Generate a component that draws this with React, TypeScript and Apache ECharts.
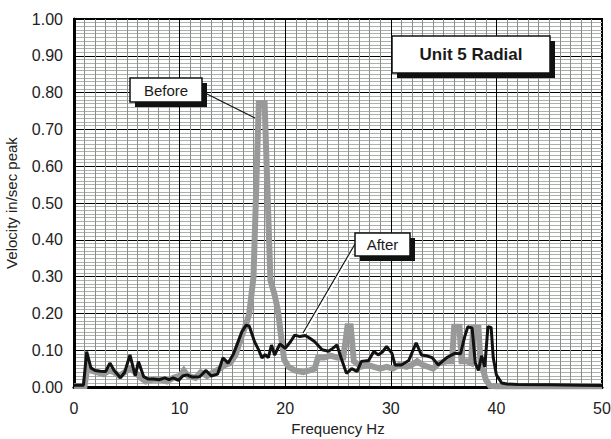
import React, { useEffect, useRef } from "react";
import * as echarts from "echarts";

const beforeFreq = [0, 1.0, 1.3, 1.6, 2.2, 2.8, 3.3, 3.8, 4.3, 4.8, 5.3, 5.8, 6.3, 6.8, 7.5, 8.2, 8.8, 9.4, 10.0, 10.4, 10.8, 11.5, 12.0, 12.6, 13.2, 13.8, 14.3, 14.8, 15.3, 15.9, 16.3, 16.6, 17.0, 17.5, 18.05, 18.6, 19.0, 19.3, 19.6, 19.9, 20.3, 20.9, 21.7, 22.3, 22.8, 23.1, 23.7, 24.3, 24.9, 25.5, 25.9, 26.2, 26.5, 27.2, 27.8, 28.4, 29.0, 29.6, 30.2, 30.8, 31.5, 32.0, 32.5, 33.0, 33.5, 34.0, 34.6, 35.3, 35.8, 36.0, 36.5, 36.7, 37.2, 37.6, 37.8, 38.3, 38.5, 38.8, 39.0, 39.4, 40, 45, 50];
const beforeVel = [0.003, 0.003, 0.06, 0.045, 0.04, 0.035, 0.045, 0.04, 0.03, 0.04, 0.05, 0.04, 0.025, 0.015, 0.02, 0.02, 0.015, 0.025, 0.03, 0.045, 0.03, 0.025, 0.04, 0.03, 0.04, 0.05, 0.06, 0.065, 0.087, 0.14, 0.17, 0.2, 0.3, 0.772, 0.772, 0.29, 0.25, 0.21, 0.14, 0.075, 0.055, 0.045, 0.04, 0.045, 0.05, 0.08, 0.08, 0.085, 0.08, 0.08, 0.165, 0.165, 0.07, 0.055, 0.06, 0.055, 0.05, 0.055, 0.05, 0.06, 0.055, 0.06, 0.07, 0.06, 0.055, 0.05, 0.065, 0.07, 0.07, 0.164, 0.164, 0.07, 0.07, 0.065, 0.16, 0.16, 0.065, 0.04, 0.02, 0.003, 0.002, 0.002, 0.002];

const afterFreq = [0, 0.9, 1.2, 1.6, 2.0, 2.5, 3.0, 3.4, 3.8, 4.4, 4.8, 5.3, 5.8, 6.1, 6.6, 7.0, 7.5, 8.1, 8.6, 9.0, 9.4, 9.9, 10.3, 10.7, 11.2, 11.9, 12.5, 13.0, 13.6, 14.1, 14.6, 15.1, 15.5, 15.9, 16.3, 16.6, 17.1, 17.5, 17.8, 18.1, 18.4, 18.7, 19.0, 19.5, 20.0, 20.5, 20.9, 21.4, 21.9, 22.3, 22.8, 23.5, 24.1, 24.5, 24.9, 25.3, 25.8, 26.3, 26.8, 27.2, 27.9, 28.4, 28.8, 29.2, 29.6, 30.1, 30.4, 31.0, 31.7, 32.4, 32.9, 33.4, 33.9, 34.5, 35.3, 36.1, 36.6, 37.0, 37.3, 37.7, 38.0, 38.3, 38.6, 38.9, 39.2, 39.5, 39.7, 40.0, 40.5, 41.0, 42, 45, 48, 50];
const afterVel = [0.005, 0.005, 0.096, 0.052, 0.045, 0.043, 0.042, 0.065, 0.045, 0.025, 0.04, 0.087, 0.03, 0.069, 0.028, 0.022, 0.022, 0.02, 0.025, 0.02, 0.025, 0.018, 0.03, 0.033, 0.027, 0.028, 0.045, 0.03, 0.035, 0.079, 0.065, 0.09, 0.12, 0.15, 0.168, 0.165, 0.123, 0.1, 0.079, 0.088, 0.08, 0.114, 0.087, 0.117, 0.105, 0.123, 0.141, 0.137, 0.14, 0.133, 0.123, 0.101, 0.097, 0.105, 0.114, 0.079, 0.037, 0.05, 0.042, 0.069, 0.072, 0.097, 0.087, 0.095, 0.11, 0.092, 0.06, 0.06, 0.072, 0.12, 0.087, 0.085, 0.08, 0.06, 0.08, 0.092, 0.09, 0.137, 0.164, 0.16, 0.065, 0.045, 0.085, 0.055, 0.164, 0.162, 0.08, 0.033, 0.011, 0.008, 0.007, 0.006, 0.005, 0.004];

const FONT = "'Liberation Sans', Arial, sans-serif";

function box(x: number, y: number, w: number, h: number, label: string, fontSize: number, bold: boolean) {
  return [
    { type: "rect", z: 100, shape: { x: x + 5, y: y + 5, width: w, height: h }, style: { fill: "#111" } },
    { type: "rect", z: 101, shape: { x, y, width: w, height: h }, style: { fill: "#fff", stroke: "#111", lineWidth: 1.5 } },
    {
      type: "text", z: 102, x: x + w / 2, y: y + h / 2,
      style: { text: label, fill: "#1a1a1a", font: `${bold ? "bold " : ""}${fontSize}px ${FONT}`, align: "center", verticalAlign: "middle" },
    },
  ];
}

export default function App() {
  const ref = useRef<HTMLDivElement>(null);
  useEffect(() => {
    document.body.style.margin = "0";
    const chart = echarts.init(ref.current!, undefined, { renderer: "svg" });
    const before = beforeFreq.map((f, i) => [f, beforeVel[i]]);
    const after = afterFreq.map((f, i) => [f, afterVel[i]]);
    chart.setOption({
      animation: false,
      grid: {
        left: 74, right: 9, top: 19, bottom: 52, show: true, containLabel: false, outerBoundsMode: "none",
        borderColor: "#000", borderWidth: 2, backgroundColor: "#fff",
      },
      xAxis: {
        type: "value", min: 0, max: 50, interval: 10,
        axisLine: { show: true, onZero: false, lineStyle: { color: "#000", width: 3 } },
        axisTick: { show: false },
        axisLabel: { fontSize: 16, color: "#222", margin: 13, fontFamily: FONT },
        splitLine: { show: true, lineStyle: { color: "#000", width: 1 } },
        minorTick: { show: false, splitNumber: 10 },
        minorSplitLine: { show: true, lineStyle: { color: "#8c8c8c", width: 1 } },
        name: "Frequency Hz", nameLocation: "middle", nameGap: 31,
        nameTextStyle: { fontSize: 15, color: "#222", fontFamily: FONT },
      },
      yAxis: {
        type: "value", min: 0, max: 1, interval: 0.1,
        axisLine: { show: true, onZero: false, lineStyle: { color: "#000", width: 3 } },
        axisTick: { show: false },
        axisLabel: { fontSize: 16, color: "#222", margin: 11, fontFamily: FONT, formatter: (v: number) => v.toFixed(2) },
        splitLine: { show: true, lineStyle: { color: "#000", width: 1 } },
        minorTick: { show: false, splitNumber: 10 },
        minorSplitLine: { show: true, lineStyle: { color: "#aab0aa", width: 1 } },
        name: "Velocity in/sec peak", nameLocation: "middle", nameGap: 55,
        nameTextStyle: { fontSize: 15, color: "#222", fontFamily: FONT },
      },
      series: [
        { name: "Before", type: "line", data: before, showSymbol: false, symbol: "none", lineStyle: { color: "#999999", width: 6, join: "miter" }, z: 2 },
        { name: "After", type: "line", data: after, showSymbol: false, symbol: "none", lineStyle: { color: "#111111", width: 3 }, z: 3 },
      ],
      graphic: [
        { type: "line", z: 99, shape: { x1: 205, y1: 93, x2: 255, y2: 118 }, style: { stroke: "#111", lineWidth: 1.2 } },
        { type: "line", z: 98, shape: { x1: 356, y1: 244, x2: 304, y2: 333 }, style: { stroke: "#fff", lineWidth: 3.5 } },
        { type: "line", z: 99, shape: { x1: 355, y1: 244, x2: 303, y2: 333 }, style: { stroke: "#111", lineWidth: 1.2 } },
        ...box(130, 78, 72, 24, "Before", 15, false),
        ...box(355, 233, 55, 23, "After", 15, false),
        ...box(392, 36, 158, 37, "Unit 5 Radial", 17, true),
      ],
    });
    return () => chart.dispose();
  }, []);
  return <div ref={ref} style={{ width: 611, height: 439 }} />;
}
